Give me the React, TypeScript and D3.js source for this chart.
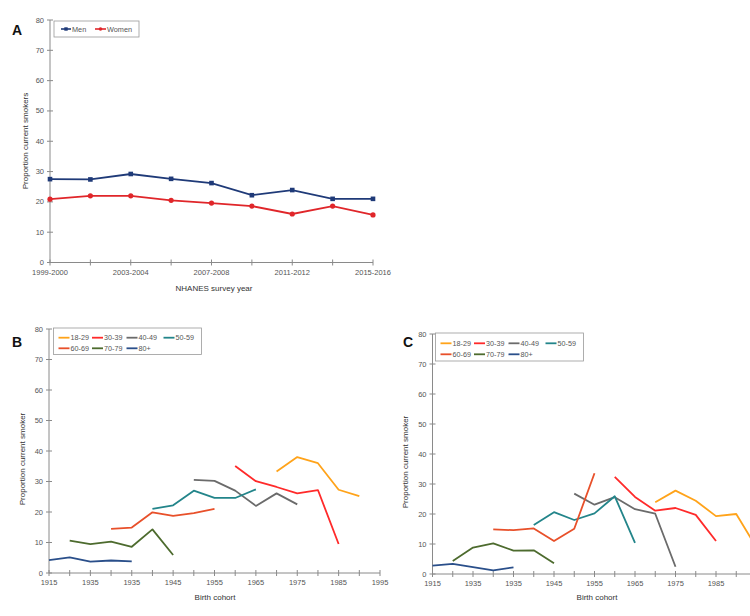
import React from "react";
import * as d3 from "d3";

// Panel A: NHANES survey cycles
const surveyYears = ["1999-2000", "2001-2002", "2003-2004", "2005-2006", "2007-2008", "2009-2010", "2011-2012", "2013-2014", "2015-2016"];
const menPct = [27.5, 27.4, 29.2, 27.6, 26.2, 22.2, 23.9, 21.0, 21.0];
const womenPct = [20.9, 22.0, 22.0, 20.5, 19.6, 18.6, 16.0, 18.6, 15.7];

// Panels B and C: birth cohorts
const cohortTicks = d3.range(1915, 1996, 5);
const cohortTickLabels = ["1915", "1935", "1935", "1945", "1955", "1965", "1975", "1985", "1995"];
const ageGroups = ["18-29", "30-39", "40-49", "50-59", "60-69", "70-79", "80+"];
const ageColors = ["#ffa31a", "#ff2a2a", "#6b6b6b", "#23858a", "#e8502a", "#4d6b2e", "#2a4f8a"];
const groupStart = [1970, 1960, 1950, 1940, 1930, 1920, 1915];

const valuesB = [
  [33.3, 38.0, 36.0, 27.3, 25.2],
  [35.1, 30.1, 28.2, 26.1, 27.2, 9.5],
  [30.5, 30.2, 27.0, 22.0, 26.1, 22.5],
  [21.0, 22.2, 27.0, 24.6, 24.6, 27.4],
  [14.5, 14.9, 19.9, 18.7, 19.6, 21.0],
  [10.6, 9.5, 10.3, 8.6, 14.3, 5.9],
  [4.2, 5.1, 3.7, 4.1, 3.8],
];
const valuesC = [
  [23.9, 27.8, 24.4, 19.3, 20.0, 8.8],
  [32.4, 25.7, 21.1, 22.0, 19.7, 11.0],
  [26.8, 23.1, 25.6, 21.6, 20.1, 2.4],
  [16.3, 20.6, 18.0, 20.2, 25.9, 10.4],
  [14.9, 14.6, 15.2, 11.0, 15.1, 33.6],
  [4.3, 8.8, 10.2, 7.8, 7.9, 3.6],
  [2.8, 3.4, 2.3, 1.2, 2.2],
];

const yTicks = d3.range(0, 81, 10);
const font = "Liberation Sans, Arial, sans-serif";
const axisColor = "#8a8a8a";
const textColor = "#555";
const W = 750;

function YAxis({ y, x0 }: { y: d3.ScaleLinear<number, number>; x0: number }) {
  return (
    <g>
      <line x1={x0} x2={x0} y1={y(0)} y2={y(80)} stroke={axisColor} />
      {yTicks.map((t) => (
        <g key={t}>
          <line x1={x0 - 3} x2={x0 + 3} y1={y(t)} y2={y(t)} stroke={axisColor} />
          <text x={x0 - 6} y={y(t) + 2.5} textAnchor="end" fontSize={7.5} fill={textColor}>{t}</text>
        </g>
      ))}
    </g>
  );
}

function CohortPanel({ values, x, y, legend, letter, letterX, yLabelX, xLabelX }: any) {
  const line = d3.line<[number, number]>().x((d) => x(d[0])).y((d) => y(d[1]));
  const x0 = x(1915);
  return (
    <g>
      <YAxis y={y} x0={x0} />
      <line x1={x0} x2={x(1995)} y1={y(0)} y2={y(0)} stroke={axisColor} />
      {cohortTicks.map((t) => (
        <line key={t} x1={x(t)} x2={x(t)} y1={y(0) - 3} y2={y(0) + 3} stroke={axisColor} />
      ))}
      {cohortTickLabels.map((l, i) => {
        const lx = x(1915 + i * 10);
        if (lx + 9 > W) return null;
        return <text key={i} x={lx} y={y(0) + 11.5} textAnchor="middle" fontSize={7.5} fill={textColor}>{l}</text>;
      })}
      {values.map((vals: number[], g: number) => (
        <path key={g} d={line(vals.map((v, i) => [groupStart[g] + i * 5, v] as [number, number])) || ""}
          fill="none" stroke={ageColors[g]} strokeWidth={1.8} strokeLinejoin="round" />
      ))}
      <rect x={legend.x} y={legend.y} width={148} height={legend.h} fill="#fff" stroke="#999" strokeWidth={0.8} />
      {ageGroups.map((a, i) => {
        const col = [5, 38.5, 73, 110][i % 4];
        const ry = legend.y + legend.rows[Math.floor(i / 4)];
        return (
          <g key={a}>
            <line x1={legend.x + col} x2={legend.x + col + 11} y1={ry} y2={ry} stroke={ageColors[i]} strokeWidth={1.8} />
            <text x={legend.x + col + 12} y={ry + 2.5} fontSize={7.2} fill={textColor}>{a}</text>
          </g>
        );
      })}
      <text x={letterX} y={346.5} fontSize={14} fontWeight="bold" fill="#111">{letter}</text>
      <text transform={`translate(${yLabelX},${(y(0) + y(80)) / 2 + 8}) rotate(-90)`} textAnchor="middle" fontSize={8} fill="#333">Proportion current smoker</text>
      <text x={xLabelX} y={600} textAnchor="middle" fontSize={8} fill="#333">Birth cohort</text>
    </g>
  );
}

export default function App() {
  const xA = d3.scaleLinear().domain([0, surveyYears.length - 1]).range([50, 373]);
  const yA = d3.scaleLinear().domain([0, 80]).range([262.5, 20]);
  const lineA = d3.line<number>().x((_, i) => xA(i)).y((d) => yA(d));

  const xB = d3.scaleLinear().domain([1915, 1995]).range([49, 380]);
  const yB = d3.scaleLinear().domain([0, 80]).range([573, 329]);
  const xC = d3.scaleLinear().domain([1915, 1995]).range([432.5, 756.5]);
  const yC = d3.scaleLinear().domain([0, 80]).range([574, 334]);

  return (
    <svg width={W} height={616} style={{ position: "absolute", left: 0, top: 0, background: "#fff" }} fontFamily={font}>
      {/* Panel A */}
      <YAxis y={yA} x0={50} />
      <line x1={50} x2={373} y1={yA(0)} y2={yA(0)} stroke={axisColor} />
      {surveyYears.map((s, i) => (
        <g key={s}>
          <line x1={xA(i)} x2={xA(i)} y1={yA(0) - 3} y2={yA(0) + 3} stroke={axisColor} />
          {i % 2 === 0 && (
            <text x={xA(i)} y={yA(0) + 12} textAnchor="middle" fontSize={7.5} fill={textColor}>{s}</text>
          )}
        </g>
      ))}
      <path d={lineA(menPct) || ""} fill="none" stroke="#1f3a78" strokeWidth={1.8} />
      <path d={lineA(womenPct) || ""} fill="none" stroke="#e0262a" strokeWidth={1.8} />
      {menPct.map((v, i) => (
        <rect key={i} x={xA(i) - 2.3} y={yA(v) - 2.3} width={4.6} height={4.6} fill="#1f3a78" />
      ))}
      {womenPct.map((v, i) => (
        <circle key={i} cx={xA(i)} cy={yA(v)} r={2.6} fill="#e0262a" />
      ))}
      <rect x={54} y={21} width={85} height={16} fill="#fff" stroke="#999" strokeWidth={0.8} />
      <line x1={61} x2={71} y1={29} y2={29} stroke="#1f3a78" strokeWidth={1.6} />
      <rect x={64.3} y={27.3} width={3.4} height={3.4} fill="#1f3a78" />
      <text x={72} y={31.5} fontSize={7.3} fill={textColor}>Men</text>
      <line x1={95} x2={106} y1={29} y2={29} stroke="#e0262a" strokeWidth={1.6} />
      <circle cx={100.5} cy={29} r={1.8} fill="#e0262a" />
      <text x={107} y={31.5} fontSize={7.3} fill={textColor}>Women</text>
      <text x={12} y={35} fontSize={14} fontWeight="bold" fill="#111">A</text>
      <text transform={`translate(28,141) rotate(-90)`} textAnchor="middle" fontSize={8} fill="#333">Proportion current smokers</text>
      <text x={214} y={291} textAnchor="middle" fontSize={8} fill="#333">NHANES survey year</text>

      <CohortPanel values={valuesB} x={xB} y={yB} letter="B" letterX={12} yLabelX={25} xLabelX={215}
        legend={{ x: 53.5, y: 328, h: 26.5, rows: [9.7, 20.3] }} />
      <CohortPanel values={valuesC} x={xC} y={yC} letter="C" letterX={403} yLabelX={408} xLabelX={597}
        legend={{ x: 435.5, y: 333, h: 28, rows: [10.3, 21.3] }} />
    </svg>
  );
}
